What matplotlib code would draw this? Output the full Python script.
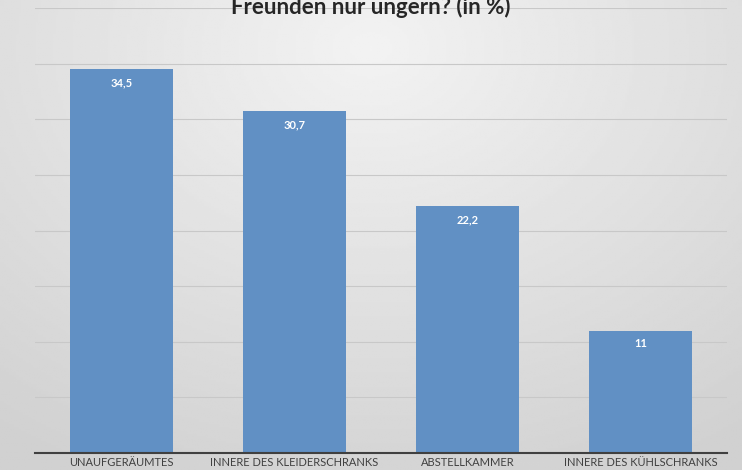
import matplotlib
matplotlib.use("Agg")
import matplotlib.pyplot as plt
import numpy as np

plt.rcParams['font.family'] = ['Lato', 'DejaVu Sans']

categories = ["UNAUFGERÄUMTES", "INNERE DES KLEIDERSCHRANKS", "ABSTELLKAMMER", "INNERE DES KÜHLSCHRANKS"]
values = [34.5, 30.7, 22.2, 11]
labels = ["34,5", "30,7", "22,2", "11"]

fig = plt.figure(figsize=(7.42, 4.70), dpi=100)

# soft radial gray background
bg = fig.add_axes([0, 0, 1, 1], zorder=0)
yy, xx = np.mgrid[0:1:200j, 0:1:300j]
r = np.sqrt(((xx - 0.5) * 1.2) ** 2 + (yy - 0.1) ** 2)
bg.imshow(0.95 - 0.13 * np.clip(r, 0, 1), cmap='gray', vmin=0, vmax=1, aspect='auto', extent=[0, 1, 0, 1])
bg.axis('off')

ax = fig.add_axes([35/742, 1 - 453/470, 692/742, 445/470], zorder=1)
ax.patch.set_alpha(0)
x = np.arange(len(categories))
ax.bar(x, values, width=0.6, color='#6190c4', zorder=2)
for xi, v, lab in zip(x, values, labels):
    ax.text(xi, v - 1.2, lab, ha='center', va='center', color='white', fontsize=8, fontweight='bold')

ax.set_xlim(-0.5, 3.5)
ax.set_ylim(0, 40)
ax.set_yticks(np.arange(5, 41, 5))
ax.yaxis.grid(True, color='#c8c8c8', linewidth=0.8, zorder=0)
ax.tick_params(left=False, labelleft=False, bottom=False, labelbottom=False)
for s in ['top', 'right', 'left']:
    ax.spines[s].set_visible(False)
ax.spines['bottom'].set_color('#404040')
ax.spines['bottom'].set_linewidth(1.5)

for xi, c in zip(x, categories):
    ax.text(xi, -0.4, c, ha='center', va='top', fontsize=8, color='#404040', clip_on=False)

fig.text(0.5, 0.986, "Freunden nur ungern? (in %)", ha='center', va='center', fontsize=16,
         fontweight='bold', color='#262626')

fig.savefig("out.png", dpi=100)
